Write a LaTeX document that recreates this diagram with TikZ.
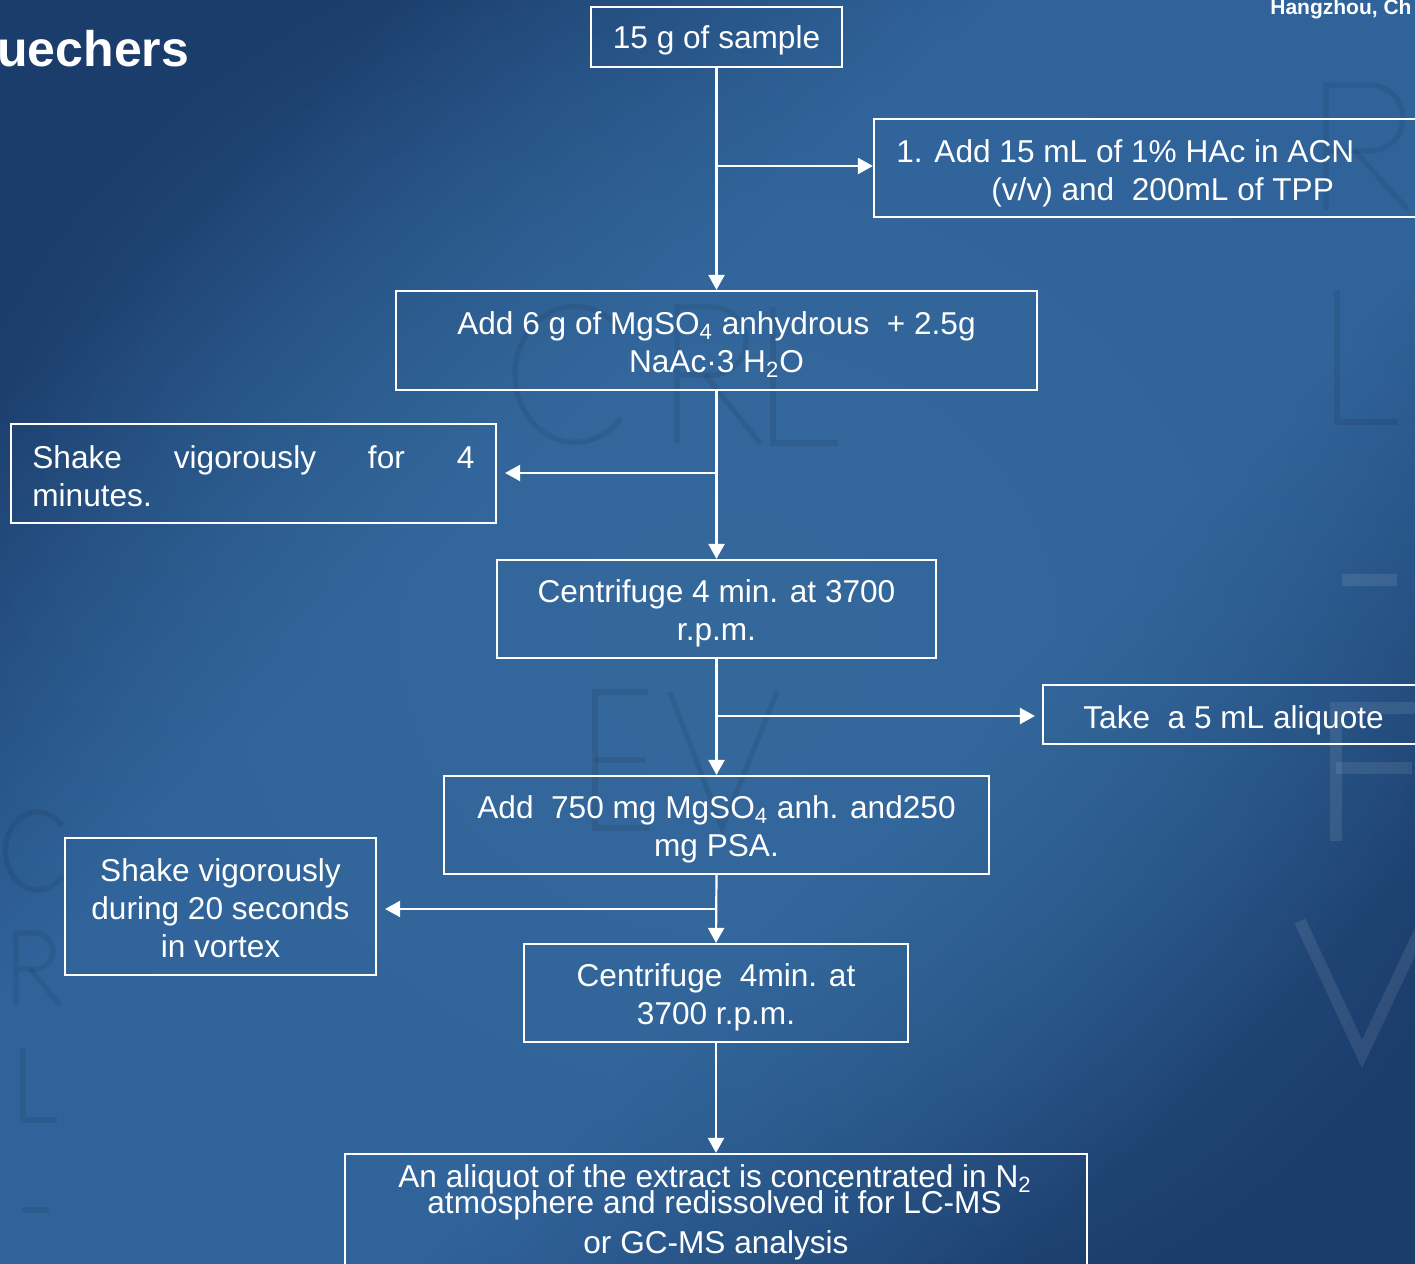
\documentclass[tikz,border=0pt]{standalone}
\usepackage{fontspec}
\setmainfont{Liberation Sans}
\usetikzlibrary{arrows.meta,fadings}
\definecolor{bgDark}{HTML}{1B3D6C}
\definecolor{bgMid}{HTML}{30639A}
\definecolor{bgC}{HTML}{35699C}
\pgfdeclareverticalshading{bgsh}{100bp}{color(0bp)=(bgDark); color(25bp)=(bgDark); color(41bp)=(bgMid); color(59bp)=(bgMid); color(75bp)=(bgDark); color(100bp)=(bgDark)}
\tikzfading[name=cfade, inner color=transparent!0, outer color=transparent!100]
\newcommand\bx{\fontsize{15.8}{19}\selectfont}
\begin{document}
\begin{tikzpicture}[x=0.5pt,y=-0.5pt,
  box/.style={draw=white, line width=1.1pt, inner sep=0pt},
  txt/.style={inner sep=0pt, font=\bx, text=white, align=center},
  arr/.style={draw=white, line width=1.1pt, -{Triangle[length=7.5pt,width=8pt]}},
  wmdark/.style={draw=black, draw opacity=0.08, line width=2.6pt, line join=miter},
  wmlight/.style={draw=white, draw opacity=0.09, line width=6pt}]
\useasboundingbox (0,0) rectangle (1415,1264);
\clip (0,0) rectangle (1415,1264);
% background
\shade[shading=bgsh, shading angle=45] (0,0) rectangle (1415,1264);
\fill[bgC, path fading=cfade] (730,640) ellipse (820 and 740);
% watermark letters (drawn shapes)
\begin{scope}[wmdark]
  \draw (621,418) arc[start angle=40, end angle=320, x radius=60, y radius=68];
  \draw (677,443) -- (677,307) -- (712,307) arc[start angle=-90, end angle=90, radius=34] -- (677,375);
  \draw (705,375) -- (760,443);
  \draw (773,307) -- (773,443) -- (838,443);
  \draw (648,692) -- (595,692) -- (595,828) -- (650,828);
  \draw (595,760) -- (645,760);
  \draw (670,692) -- (722,828) -- (777,692);
  \draw (1326,210) -- (1326,85) -- (1370,85) arc[start angle=-90, end angle=90, radius=33] -- (1326,151);
  \draw (1355,151) -- (1408,210);
  \draw (1337,290) -- (1337,422) -- (1398,422);
  \draw (62,876) arc[start angle=40, end angle=320, x radius=32, y radius=39];
  \draw (16,1005) -- (16,933) -- (35,933) arc[start angle=-90, end angle=90, radius=18] -- (16,969);
  \draw (30,969) -- (60,1005);
  \draw (23,1048) -- (23,1120) -- (57,1120);
  \draw (22,1210) -- (49,1210);
\end{scope}
\begin{scope}[wmlight]
  \draw (1342,580) -- (1397,580);
  \draw (1415,708) -- (1336,708) -- (1336,841);
  \draw (1336,768) -- (1412,768);
  \draw (1300,921) -- (1362,1054) -- (1425,921);
\end{scope}
% titles
\node[inner sep=0pt, anchor=base west, text=white, font=\fontsize{25}{30}\selectfont\bfseries] (title) at (-3,66) {uechers};
\node[inner sep=0pt, anchor=base west, text=white, font=\fontsize{10.5}{12}\selectfont\bfseries] (place) at (1270,14) {Hangzhou, Ch};
% boxes
\node[box, minimum width=125.5pt, minimum height=30pt] (b1) at (716.5,37) {};
\node[txt, yshift=-1.5pt] (t1) at (b1.center) {15 g of sample};
\node[box, minimum width=283pt, minimum height=49pt] (b2) at (1157,168) {};
\node[txt, anchor=base west] (t2a) at (896,162) {1. Add 15 mL of 1\% HAc in ACN};
\node[txt, anchor=base west] (t2b) at (991,200) {(v/v) and\ \ 200mL of TPP};
\node[box, minimum width=320.5pt, minimum height=49.5pt] (b3) at (716.5,340.5) {};
\node[txt, yshift=-2pt] (t3) at (b3.center) {Add 6 g of MgSO\textsubscript{4} anhydrous\ \ + 2.5g\\NaAc·3 H\textsubscript{2}O};
\node[box, minimum width=242.5pt, minimum height=49.5pt] (b4) at (253.5,473.5) {};
\node[txt, anchor=base west] (t4a) at (32,468) {\makebox[221pt][s]{Shake vigorously for 4}};
\node[txt, anchor=base west] (t4b) at (32,506) {minutes.};
\node[box, minimum width=219.5pt, minimum height=49pt] (b5) at (716.5,609) {};
\node[txt, yshift=-2pt] (t5) at (b5.center) {Centrifuge 4 min. at 3700\\r.p.m.};
\node[box, minimum width=198.5pt, minimum height=29.5pt] (b6) at (1241.5,714.5) {};
\node[txt, anchor=base west] (t6) at (1083,728) {Take\ \ a 5 mL aliquote};
\node[box, minimum width=272.5pt, minimum height=49pt] (b7) at (716.5,825) {};
\node[txt, yshift=-2pt] (t7) at (b7.center) {Add\ \ 750 mg MgSO\textsubscript{4} anh. and250\\mg PSA.};
\node[box, minimum width=155.5pt, minimum height=68.5pt] (b8) at (220.5,906.5) {};
\node[txt, yshift=-0.8pt] (t8) at (b8.center) {Shake vigorously\\during 20 seconds\\in vortex};
\node[box, minimum width=192pt, minimum height=49pt] (b9) at (716,993) {};
\node[txt, yshift=-2pt] (t9) at (b9.center) {Centrifuge\ \ 4min. at\\3700 r.p.m.};
\node[box, minimum width=371pt, minimum height=73pt] (b10) at (716,1227) {};
\node[txt, anchor=base west] (t10a) at (398,1187) {An aliquot of the extract is concentrated in N\textsubscript{2}};
\node[txt, anchor=base west] (t10b) at (427,1213) {atmosphere and redissolved it for LC-MS};
\node[txt, anchor=base west] (t10c) at (583,1253) {or GC-MS analysis};
% junctions
\coordinate (j1) at (716.5,166);
\coordinate (j2) at (716.5,473);
\coordinate (j3) at (716.5,716);
\coordinate (j4) at (716.5,909);
% connectors
\draw[arr] (b1.south) -- (b3.north);
\draw[arr] (j1) -- (b2.west |- j1);
\draw[arr] (b3.south) -- (b5.north);
\draw[arr, shorten >=4pt] (j2) -- (b4.east |- j2);
\draw[arr] (b5.south) -- (b7.north);
\draw[arr, shorten >=3.5pt] (j3) -- (b6.west |- j3);
\draw[arr] (b7.south) -- (b9.north);
\draw[arr, shorten >=4pt] (j4) -- (b8.east |- j4);
\draw[arr] (b9.south) -- (b10.north);
\end{tikzpicture}
\end{document}
